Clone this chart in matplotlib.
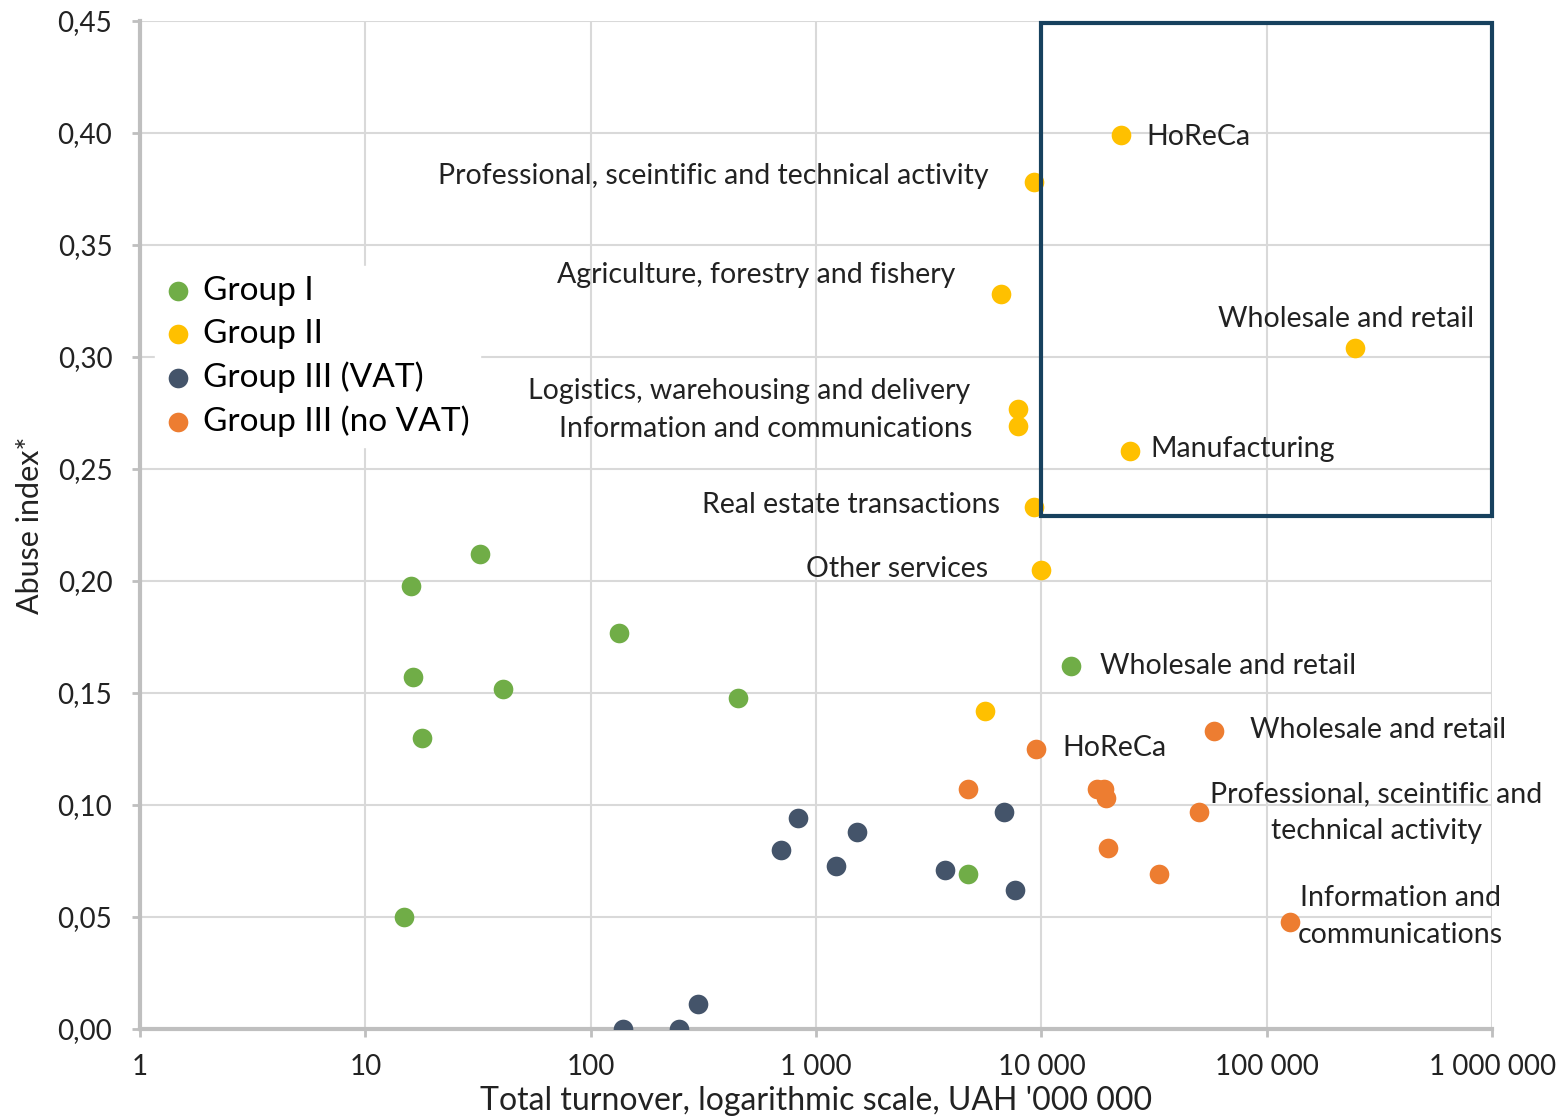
import matplotlib
matplotlib.use("Agg")
import matplotlib.pyplot as plt
from matplotlib.patches import Rectangle
from matplotlib.ticker import FixedLocator, NullLocator

plt.rcParams['font.family'] = ['Lato', 'DejaVu Sans']

# Group I
g1_x = [14.9, 16.0, 16.3, 17.9, 32.3, 40.8, 133.6, 451, 4730, 13550]
g1_y = [0.050, 0.198, 0.157, 0.130, 0.212, 0.152, 0.177, 0.148, 0.069, 0.162]

# Group II
g2_x = [22600, 9290, 6640, 247000, 7890, 7890, 24800, 9290, 9980, 5630]
g2_y = [0.399, 0.378, 0.328, 0.304, 0.277, 0.269, 0.258, 0.233, 0.205, 0.142]

# Group III (VAT)
g3_x = [139, 247, 300, 700, 833, 1228, 1522, 3740, 6840, 7650]
g3_y = [0.000, 0.000, 0.011, 0.080, 0.094, 0.073, 0.088, 0.071, 0.097, 0.062]

# Group III (no VAT)
g4_x = [4730, 9480, 17700, 19000, 19400, 19800, 33400, 50100, 58500, 127000]
g4_y = [0.107, 0.125, 0.107, 0.107, 0.103, 0.081, 0.069, 0.097, 0.133, 0.048]

groups = ["Group I", "Group II", "Group III (VAT)", "Group III (no VAT)"]
colors = ["#70AD47", "#FFC000", "#44546A", "#ED7D31"]

x_ticks = [1, 10, 100, 1000, 10000, 100000, 1000000]
x_labels = ["1", "10", "100", "1 000", "10 000", "100 000", "1 000 000"]
y_ticks = [0, 0.05, 0.10, 0.15, 0.20, 0.25, 0.30, 0.35, 0.40, 0.45]

# (text, series, index of point in series, dx px, dy px, ha)
point_labels = [
    ("HoReCa", 1, 0, 25, -2, "left"),
    ("Professional, sceintific and technical activity", 1, 1, -46, 6, "right"),
    ("Agriculture, forestry and fishery", 1, 2, -46, 19, "right"),
    ("Wholesale and retail", 1, 3, 119, 29, "right"),
    ("Logistics, warehousing and delivery", 1, 4, -48, 18, "right"),
    ("Information and communications", 1, 5, -46, -3, "right"),
    ("Manufacturing", 1, 6, 20, 2, "left"),
    ("Real estate transactions", 1, 7, -34, 2, "right"),
    ("Other services", 1, 8, -53, 1, "right"),
    ("Wholesale and retail", 0, 9, 29, 0, "left"),
    ("HoReCa", 3, 1, 26, 1, "left"),
    ("Wholesale and retail", 3, 8, 36, 1, "left"),
    ("Professional, sceintific and\ntechnical activity", 3, 7, 177, -1, "center"),
    ("Information and\ncommunications", 3, 9, 110, 5, "center"),
]

xs_all = [g1_x, g2_x, g3_x, g4_x]
ys_all = [g1_y, g2_y, g3_y, g4_y]

fig = plt.figure(figsize=(15.65, 11.19), dpi=100)
ax = fig.add_axes([0.0895, 0.0804, 0.8639, 0.9008])

for xs, ys, c, name in zip(xs_all, ys_all, colors, groups):
    ax.scatter(xs, ys, s=200, color=c, label=name, zorder=3, linewidths=0)

ax.set_xscale("log")
ax.set_xlim(1, 1000000)
ax.set_ylim(0, 0.45)
ax.xaxis.set_major_locator(FixedLocator(x_ticks))
ax.xaxis.set_minor_locator(NullLocator())
ax.set_xticks(x_ticks)
ax.set_xticklabels(x_labels)
ax.set_yticks(y_ticks)
ax.set_yticklabels([f"{v:.2f}".replace(".", ",") for v in y_ticks])
ax.tick_params(labelsize=20, labelcolor="#222222", length=6, width=2, pad=12, color="#BFBFBF")
ax.tick_params(axis="y", pad=14)

ax.grid(True, color="#D9D9D9", linewidth=1.5, zorder=0)
ax.set_axisbelow(True)
for s in ["top", "right"]:
    ax.spines[s].set_visible(False)
for s in ["left", "bottom"]:
    ax.spines[s].set_color("#BFBFBF")
    ax.spines[s].set_linewidth(3)

ax.set_xlabel("Total turnover, logarithmic scale, UAH '000 000", fontsize=23, labelpad=4, color="#222222")
ax.set_ylabel("Abuse index*", fontsize=22, labelpad=10, color="#222222")

for text, gi, pi, dx, dy, ha in point_labels:
    ax.annotate(text, (xs_all[gi][pi], ys_all[gi][pi]), xytext=(dx, dy), textcoords="offset pixels",
                fontsize=20.5, ha=ha, va="center", color="#222222", zorder=4, linespacing=1.5)

ax.add_patch(Rectangle((10000, 0.229), 1000000 - 10000, 0.449 - 0.229, fill=False,
                       edgecolor="#17415E", linewidth=3, zorder=5, clip_on=False))

leg = ax.legend(loc="upper left", bbox_to_anchor=(0.011, 0.757), fontsize=24, frameon=True,
                framealpha=1, edgecolor="white", fancybox=False, handlelength=0.8,
                handletextpad=0.35, labelspacing=0.38, borderpad=0.3, borderaxespad=0)

fig.savefig("out.png", dpi=100)
